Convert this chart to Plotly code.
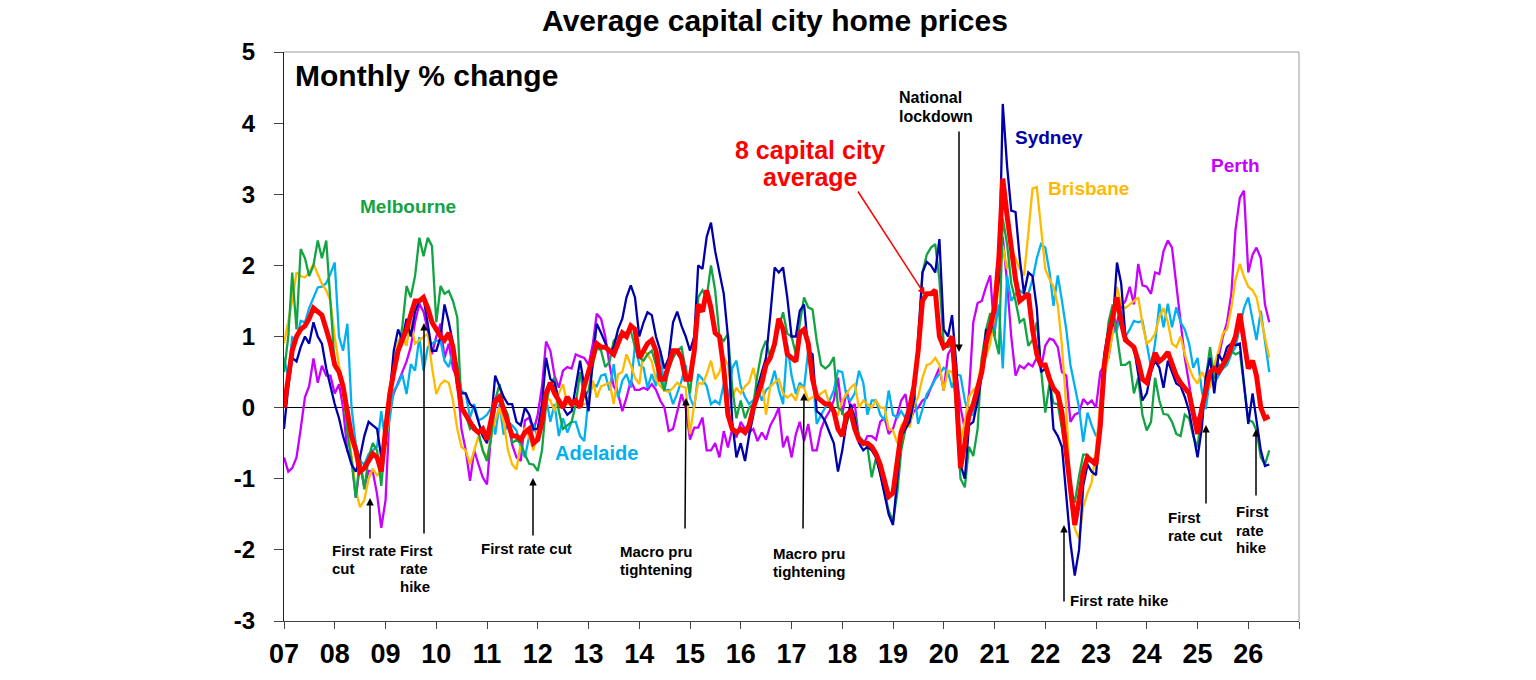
import pandas as pd
import plotly.graph_objects as go

months = pd.date_range("2007-01-01", periods=234, freq="MS")

avg8 = [
 0.0, 0.4, 0.8, 1.0, 1.1, 1.15, 1.25, 1.4, 1.35, 1.3, 1.1, 0.9,
 0.6, 0.5, 0.3, -0.1, -0.4, -0.6, -0.9, -0.85, -0.75, -0.65, -0.7, -0.9,
 -0.3, 0.2, 0.5, 0.8, 0.95, 1.1, 1.3, 1.5, 1.5, 1.55, 1.4, 1.2,
 1.1, 1.0, 0.95, 1.05, 0.85, 0.4, 0.0, -0.1, -0.2, -0.3, -0.35, -0.3,
 -0.45, -0.2, 0.1, 0.15, -0.05, -0.2, -0.4, -0.4, -0.45, -0.35, -0.3, -0.5,
 -0.45, -0.2, 0.2, 0.35, 0.2, 0.1, 0.0, 0.15, 0.05, 0.1, 0.0, 0.3,
 0.5, 0.7, 0.9, 0.85, 0.85, 0.8, 0.75, 0.9, 1.05, 1.0, 1.15, 1.1,
 0.7, 0.8, 0.9, 0.95, 0.8, 0.4, 0.4, 0.6, 0.8, 0.8, 0.7, 0.4,
 0.4, 0.8, 1.45, 1.35, 1.65, 1.4, 1.05, 1.0, 0.55, -0.1, -0.3, -0.35,
 -0.3, -0.35, -0.25, 0.0, 0.15, 0.35, 0.6, 0.7, 0.9, 1.25, 1.1, 0.75,
 0.7, 0.65, 1.05, 1.1, 0.9, 0.4, 0.15, 0.1, 0.05, 0.05, -0.05, -0.3,
 -0.4, -0.1, -0.05, -0.3, -0.45, -0.5, -0.5, -0.55, -0.65, -0.8, -1.0, -1.25,
 -1.2, -0.7, -0.35, -0.2, 0.0, 0.3, 0.8, 1.5, 1.6, 1.6, 1.65, 1.0,
 0.85, 0.9, 1.0, 0.2, -0.85, -0.5, -0.1, 0.05, 0.3, 0.5, 0.9, 1.15,
 1.4, 2.1, 3.22, 2.7, 2.25, 1.8, 1.5, 1.55, 1.6, 1.1, 0.75, 0.6,
 0.6, 0.4, 0.27, 0.2, -0.07, -0.63, -1.2, -1.65, -1.3, -0.9, -0.7, -0.75,
 -0.8, -0.25, 0.6, 1.0, 1.25, 1.55, 1.2, 0.95, 0.9, 0.85, 0.65, 0.4,
 0.35, 0.6, 0.77, 0.65, 0.7, 0.78, 0.6, 0.45, 0.35, 0.28, 0.2, -0.08,
 -0.37, 0.0, 0.25, 0.5, 0.55, 0.5, 0.6, 0.7, 0.85, 1.0, 1.32, 0.9,
 0.55, 0.66, 0.45, 0.0, -0.15, -0.12,
]

sydney = [
 -0.3, 0.3, 0.7, 0.65, 0.85, 1.0, 0.9, 1.2, 1.0, 0.9, 0.55, 0.3,
 0.05, -0.15, -0.4, -0.6, -0.8, -0.9, -0.7, -0.4, -0.2, -0.25, -0.3, -0.7,
 -0.5, 0.2, 0.8, 1.1, 0.95, 1.25, 1.0, 1.35, 1.5, 1.55, 1.2, 0.8,
 0.8, 1.0, 1.45, 1.2, 0.9, 0.3, 0.2, 0.2, 0.05, 0.0, -0.2, -0.4,
 -0.5, -0.15, 0.45, 0.3, 0.15, 0.05, 0.05, -0.2, -0.25, 0.0, -0.1, -0.3,
 -0.3, 0.05, 0.7, 0.4, 0.35, 0.1, 0.0, -0.1, -0.05, 0.28, 0.66, 0.3,
 -0.05, 0.7, 1.18, 1.05, 0.9, 0.77, 0.85, 1.1, 1.25, 1.55, 1.72, 1.55,
 1.0, 1.2, 1.34, 1.3, 1.0, 0.8, 0.55, 0.7, 1.2, 1.35, 1.15, 1.0,
 0.8, 1.0, 2.0, 1.95, 2.4, 2.6, 2.2, 1.9, 1.6, 1.0, -0.2, -0.7,
 -0.5, -0.75, -0.4, -0.1, 0.28, 0.5, 0.7, 1.3, 1.97, 1.9, 1.97, 1.55,
 1.0, 1.0, 1.36, 1.45, 0.8, 0.75, -0.05, -0.1, -0.2, -0.35, -0.5, -0.9,
 -0.6, -0.2, 0.05, -0.15, -0.5, -0.6, -0.55, -0.6, -0.7, -0.93, -1.2, -1.5,
 -1.65, -1.0, -0.4, -0.3, -0.2, 0.1, 1.0, 1.9, 2.05, 2.0, 1.9, 2.37,
 1.1, 1.0, 1.3, 0.6, -0.8, -1.0, -0.25, -0.2, 0.1, 0.45, 1.1, 1.05,
 1.4, 1.8, 4.27, 3.4, 2.77, 2.75, 2.1, 1.6, 1.9, 1.85, 1.4, 0.5,
 0.55, 0.45, -0.3, -0.4, -0.55, -1.3, -1.9, -2.36, -2.0, -1.1, -0.8, -0.9,
 -0.95, -0.2, 0.75, 1.1, 1.15, 2.04, 1.75, 1.0, 0.9, 0.85, 0.5, 0.1,
 0.2, 0.5, 0.66, 0.56, 0.28, 0.66, 0.5, 0.34, 0.3, 0.15, -0.05, -0.37,
 -0.7, -0.28, 0.43, 0.7, 0.2, 0.75, 0.65, 0.85, 0.9, 0.88, 0.9, 0.34,
 -0.23, 0.2, -0.2, -0.6, -0.82, -0.8,
]

melbourne = [
 0.5, 1.0, 1.9, 1.1, 2.23, 2.1, 1.85, 2.0, 2.35, 2.1, 2.35, 1.5,
 0.6, 0.5, 0.3, -0.35, -0.75, -1.27, -0.7, -1.15, -0.7, -0.5, -0.6, -1.1,
 -0.4, 0.1, 0.5, 0.8, 1.13, 1.71, 1.55, 1.85, 2.39, 2.13, 2.39, 2.27,
 1.2, 1.71, 1.6, 1.64, 1.5, 1.27, 0.0, -0.1, -0.3, -0.25, -0.35, -0.6,
 -0.75, -0.4, 0.1, 0.33, 0.03, -0.1, -0.5, -0.45, -0.5, -0.66, -0.79, -0.8,
 -0.89, -0.6, 0.05, 0.33, 0.42, -0.05, -0.3, -0.25, -0.2, 0.05, 0.5, 0.14,
 0.24, 0.6, 0.85, 0.8, 0.57, 0.65, 0.94, 1.0, 1.06, 1.05, 1.08, 0.85,
 0.7, 0.66, 0.75, 0.8, 0.6, 0.4, 0.24, 0.55, 0.7, 0.8, 0.85, 0.5,
 0.2, 0.8, 1.55, 1.65, 1.55, 2.0, 1.65, 1.0, 0.94, 1.04, 0.28, -0.15,
 0.1, -0.15, 0.0, 0.05, 0.47, 0.8, 0.94, 0.7, 0.9, 1.13, 1.34, 1.04,
 1.0, 0.75, 1.18, 1.55, 1.41, 1.38, 0.94, 0.6, 0.55, 0.6, 0.71, 0.0,
 -0.05, -0.23, -0.05, -0.1, -0.4, -0.47, -0.55, -0.98, -0.7, -0.93, -1.2, -1.45,
 -1.6, -1.2, -0.6, -0.3, -0.1, 0.3, 0.8, 1.9, 2.15, 2.25, 2.3, 1.8,
 0.89, 0.85, 0.88, 0.0, -1.0, -1.12, -0.55, -0.68, -0.3, 0.7, 1.1, 1.33,
 1.0, 0.75, 2.66, 2.3, 1.75, 1.5, 1.2, 1.25, 0.87, 0.95, 1.2, 0.55,
 -0.07, 0.35, 0.06, 0.05, -0.3, -0.66, -1.1, -1.34, -0.96, -0.66, -0.66, -0.75,
 -0.7, -0.36, 0.56, 1.2, 1.45, 1.0, 0.6, 0.6, 0.65, 0.2, 0.42, -0.1,
 -0.32, -0.2, 0.42, 0.1, -0.09, -0.1, -0.2, -0.37, -0.4, -0.1, -0.15, -0.4,
 -0.56, 0.0, 0.4, 0.85, 0.4, 0.61, 0.55, 0.65, 0.8, 0.75, 0.78, 0.35,
 -0.17, -0.2, -0.32, -0.7, -0.8, -0.6,
]

brisbane = [
 0.9, 1.2, 1.5, 1.9, 1.85, 1.83, 1.9, 2.02, 1.88, 1.74, 1.65, 1.5,
 1.0, 0.55, 0.2, -0.23, -0.7, -1.15, -1.4, -1.3, -1.0, -0.86, -0.95, -0.9,
 -0.55, 0.1, 0.6, 0.94, 1.0, 0.87, 1.22, 0.9, 0.95, 1.0, 1.04, 0.57,
 0.19, 0.33, 0.38, 0.35, 0.1, -0.3, -0.55, -0.6, -0.8, -0.6, -0.4, -0.6,
 -0.7, -0.4, -0.18, 0.0, -0.2, -0.6, -0.8, -0.87, -0.5, -0.28, -0.42, -0.6,
 -0.3, 0.0, 0.15, 0.1, -0.05, 0.2, 0.33, 0.05, 0.05, 0.05, 0.05, 0.05,
 0.05, 0.38, 0.14, 0.3, 0.33, 0.35, 0.05, 0.47, 0.5, 0.75, 0.6, 0.42,
 0.33, 0.8, 0.75, 0.65, 0.4, 0.3, 0.24, 0.22, 0.28, 0.35, 0.3, 0.28,
 -0.37, 0.05, 0.35, 0.33, 0.47, 0.66, 0.4, 0.5, 0.71, 0.6, 0.14, 0.28,
 0.2, 0.3, 0.35, 0.56, 0.28, 0.4, -0.1, 0.3, 0.35, 0.4, 0.2, 0.14,
 0.19, 0.1, 0.3, 0.28, 0.1, 0.15, 0.14, 0.2, 0.24, 0.05, -0.05, -0.1,
 0.1, 0.2, 0.28, 0.33, 0.0, 0.1, 0.05, 0.0, 0.1, 0.0, 0.0, -0.3,
 -0.32, -0.5, -0.25, -0.18, -0.28, 0.05, 0.15, 0.42, 0.6, 0.62, 0.7, 0.6,
 0.24, 0.52, 0.5, 0.15, -0.5, -0.2, 0.15, 0.25, 0.3, 0.7, 0.72, 0.9,
 1.3, 1.7, 2.28, 1.95, 2.2, 2.1, 1.95, 1.86, 2.45, 3.08, 3.1, 2.5,
 1.95, 1.8, 1.7, 1.44, 0.87, 0.0, -1.2, -1.7, -1.84, -1.4, -1.2, -1.05,
 -0.6, 0.1, 0.45, 0.72, 1.05, 1.7, 1.45, 1.4, 1.45, 1.5, 1.55, 1.18,
 0.9, 0.95, 1.04, 1.27, 1.4, 1.2, 0.9, 0.85, 1.0, 0.75, 0.56, 0.42,
 0.34, 0.5, 0.4, 0.28, 0.6, 0.8, 1.04, 1.1, 1.4, 1.8, 2.02, 1.84,
 1.7, 1.65, 1.55, 1.25, 0.95, 0.7,
]

adelaide = [
 0.7, 0.42, 0.99, 0.95, 1.22, 1.2, 1.4, 1.55, 1.69, 1.7, 1.75, 1.88,
 2.04, 1.0, 0.8, 1.18, 0.0, -0.52, -0.75, -0.8, -0.65, -0.6, -0.55, -0.05,
 -0.5, -0.14, 0.24, 0.33, 0.47, 0.19, 0.61, 0.52, 0.99, 0.52, 0.85, 0.9,
 0.94, 0.94, 0.66, 0.57, 0.8, 0.6, 0.24, 0.19, -0.14, 0.05, -0.18, -0.15,
 -0.1, 0.0, -0.38, 0.05, -0.38, -0.2, -0.25, -0.32, -0.56, -0.7, -0.4, -0.23,
 -0.42, -0.2, 0.14, -0.2, 0.05, -0.4, -0.15, -0.35, -0.2, -0.2, -0.4, -0.47,
 0.14, 0.33, 0.3, 0.45, 0.47, 0.24, 0.61, 0.14, 0.38, 0.47, 0.28, 0.89,
 0.6, 0.56, 0.28, 0.47, 0.3, 0.8, 0.24, 0.25, 0.05, 0.2, 0.38, 0.6,
 0.14, 0.0, 0.47, 0.4, 0.3, 0.05, 0.1, 0.05, 0.33, 0.05, 0.56, 0.66,
 0.3, 0.15, 0.05, 0.1, 0.28, 0.1, 0.25, 0.3, 0.52, 0.25, 0.05, 0.89,
 0.45, 0.19, 0.35, 0.28, 0.8, 0.47, -0.23, -0.1, 0.0, 0.1, 0.24, 0.52,
 0.5, 0.15, 0.1, 0.2, 0.52, 0.35, -0.1, 0.1, 0.1, -0.1, -0.18, 0.24,
 -0.1, -0.14, -0.05, -0.15, 0.0, 0.24, -0.23, 0.0, 0.19, 0.28, 0.4, 0.47,
 0.56, 0.5, 0.28, 0.47, 0.45, 0.1, -0.11, -0.1, 0.2, 0.6, 0.9, 1.2,
 1.07, 1.45, 0.55, 1.86, 1.5, 1.6, 1.65, 1.6, 1.6, 1.8, 2.1, 2.3,
 2.25, 1.9, 1.43, 1.86, 1.5, 1.1, 0.6, 0.3, 0.0, -0.48, -0.07, -0.25,
 -0.4, -0.3, 0.3, 1.0, 1.05, 1.1, 1.35, 1.0, 1.1, 1.22, 1.2, 1.22,
 0.9, 0.56, 0.9, 1.46, 1.13, 1.46, 1.13, 1.41, 1.2, 1.1, 0.9, 0.56,
 0.7, 0.23, -0.02, 0.42, 0.34, 0.45, 0.55, 0.6, 0.75, 0.85, 1.13, 1.4,
 1.55, 1.22, 0.95, 1.36, 0.9, 0.5,
]

perth = [
 -0.7, -0.9, -0.85, -0.7, -0.3, 0.15, 0.3, 0.69, 0.35, 0.59, 0.45, 0.45,
 0.2, 0.33, 0.0, -0.61, -0.7, -1.27, -0.8, -1.12, -0.89, -0.9, -1.22, -1.69,
 -1.3, 0.05, 0.2, 0.35, 0.5, 0.65, 0.85, 1.2, 1.46, 1.35, 1.08, 0.75,
 1.0, 1.18, 0.7, 0.9, 0.55, 0.4, -0.3, -0.6, -1.03, -0.6, -0.8, -0.98,
 -1.08, -0.33, 0.0, 0.19, 0.0, -0.2, -0.52, -0.7, -0.75, -0.18, -0.14, -0.33,
 -0.1, 0.3, 0.93, 0.8, 0.45, 0.28, 0.52, 0.57, 0.55, 0.75, 0.72, 0.7,
 0.6, 0.9, 1.32, 1.25, 1.0, 0.6, 0.3, 0.2, -0.05, 0.14, 0.38, 0.25,
 0.25, 0.28, 0.25, 0.33, 0.25, 0.1, 0.0, -0.33, -0.3, -0.05, 0.19, 0.0,
 -0.45, -0.28, -0.28, -0.14, -0.6, -0.6, -0.5, -0.7, -0.33, -0.56, -0.3, -0.42,
 -0.2, -0.3, -0.35, -0.3, -0.47, -0.35, -0.45, -0.25, -0.14, 0.0, -0.56, -0.4,
 -0.7, -0.37, -0.2, -0.47, -0.23, -0.6, -0.6, -0.3, -0.15, -0.05, 0.1, 0.42,
 -0.1, 0.24, 0.0, 0.05, -0.45, -0.52, -0.4, -0.4, -0.45, -0.2, -0.14, -0.37,
 -0.3, -0.1, 0.1, 0.19, -0.2, -0.05, 0.0, 0.1, 0.14, 0.28, 0.42, 0.56,
 0.24, 0.75, 0.85, 0.5, 0.0, -0.3, 0.2, 1.2, 1.47, 1.5, 1.7, 1.86,
 1.0, 2.14, 2.4, 1.76, 1.0, 0.45, 0.59, 0.55, 0.62, 0.58, 0.7, 0.55,
 0.87, 0.97, 0.95, 0.85, 0.5, 0.45, -0.2, -0.1, -0.07, 0.12, 0.05, 0.1,
 0.0, 0.5, 0.6, 0.7, 1.07, 1.2, 1.43, 1.5, 1.7, 1.45, 2.02, 1.72,
 1.7, 1.6, 1.9, 1.88, 2.2, 2.35, 2.25, 1.72, 1.13, 0.7, 0.34, -0.1,
 -0.17, 0.0, 0.2, 0.34, 0.52, 0.7, 0.99, 1.2, 1.6, 2.5, 2.95, 3.05,
 1.9, 2.15, 2.25, 2.1, 1.45, 1.2,
]

year_ticks = [f"{y}-01-01" for y in range(2007, 2028)]
year_labels = [f"{y % 100:02d}" for y in range(2007, 2027)] + [""]
y_ticks = [-3, -2, -1, 0, 1, 2, 3, 4, 5]
y_labels = ["-3", "-2", "-1", "0", "1", "2", "3", "4", "5"]

FONT = "Liberation Sans, Arial, sans-serif"

series = [
    ("Perth", perth, "#C800FF", 2.3),
    ("Adelaide", adelaide, "#00B0F0", 2.3),
    ("Brisbane", brisbane, "#FFBA00", 2.3),
    ("Melbourne", melbourne, "#12A342", 2.3),
    ("Sydney", sydney, "#0000AA", 2.3),
    ("8 capital city average", avg8, "#FF0000", 5),
]

fig = go.Figure()
for name, vals, col, w in series:
    fig.add_trace(go.Scatter(x=months, y=vals, mode="lines", name=name,
                             line=dict(color=col, width=w), showlegend=False))

L, R, T, B = 284, 1299, 52, 621


def px(x):
    return (x - L) / (R - L)


def py(y):
    return (B - y) / (B - T)


ann = []


def text(x, y, s, color="black", size=15, anchor="left"):
    ann.append(dict(x=px(x), y=py(y), xref="paper", yref="paper", text=f"<b>{s}</b>",
                    showarrow=False, xanchor=anchor, yanchor="middle",
                    font=dict(family=FONT, size=size, color=color)))


def arrow(hx, hy, tx, ty, color="black"):
    ann.append(dict(x=px(hx), y=py(hy), xref="paper", yref="paper", text="",
                    showarrow=True, ax=tx - hx, ay=ty - hy, axref="pixel", ayref="pixel",
                    arrowhead=2, arrowsize=1, arrowwidth=1.5, arrowcolor=color,
                    standoff=0, startstandoff=0))


text(293, 75, "Monthly % change", size=30)
text(358, 206, "Melbourne", color="#12A342", size=19)
text(553, 453, "Adelaide", color="#00B0F0", size=20)
text(810, 150, "8 capital city", color="#FF0000", size=25, anchor="center")
text(810, 177, "average", color="#FF0000", size=25, anchor="center")
text(897, 97, "National", size=16)
text(897, 117, "lockdown", size=16)
text(1013, 137, "Sydney", color="#0000AA", size=19)
text(1046, 188, "Brisbane", color="#FFBA00", size=19)
text(1209, 165, "Perth", color="#C800FF", size=19)

text(330, 550, "First rate", size=15)
text(330, 568, "cut", size=15)
text(398, 550, "First", size=15)
text(398, 568, "rate", size=15)
text(398, 586, "hike", size=15)
text(479, 548, "First rate cut", size=15)
text(618, 551, "Macro pru", size=15)
text(618, 569, "tightening", size=15)
text(771, 553, "Macro pru", size=15)
text(771, 571, "tightening", size=15)
text(1068, 600, "First rate hike", size=15)
text(1166, 517, "First", size=15)
text(1166, 535, "rate cut", size=15)
text(1234, 512, "First", size=15)
text(1234, 530, "rate", size=15)
text(1234, 547, "hike", size=15)

arrow(370, 498, 370, 540)
arrow(424, 323, 424, 535)
arrow(533, 478, 533, 537)
arrow(686, 398, 685, 530)
arrow(804, 393, 803, 530)
arrow(959, 352, 959, 130)
arrow(925, 295, 857, 190, color="#FF0000")
arrow(1064, 525, 1064, 603)
arrow(1206, 425, 1206, 505)
arrow(1256, 429, 1256, 497)

fig.update_layout(
    width=1536, height=680,
    margin=dict(l=L, r=1536 - R, t=T, b=680 - B, pad=0, autoexpand=False),
    paper_bgcolor="white", plot_bgcolor="white",
    font=dict(family=FONT, color="black"),
    title=dict(text="<b>Average capital city home prices</b>", x=775 / 1536, xref="container",
               xanchor="center", y=1 - 20 / 680, yanchor="middle",
               font=dict(family=FONT, size=30, color="black")),
    annotations=ann,
    shapes=[
        dict(type="line", xref="paper", yref="paper", x0=0, x1=1, y0=1, y1=1,
             line=dict(color="#9a9a9a", width=1)),
        dict(type="line", xref="paper", yref="paper", x0=1, x1=1, y0=0, y1=1,
             line=dict(color="#9a9a9a", width=1)),
    ],
)
fig.update_xaxes(type="date", range=["2007-01-01", "2027-01-01"], tickvals=year_ticks,
                 ticktext=year_labels, ticks="outside", ticklen=7, tickcolor="#444",
                 showline=True, linecolor="#444", linewidth=1, showgrid=False,
                 zeroline=False, ticklabelstandoff=2, automargin=False,
                 tickfont=dict(family=FONT, size=27, color="black", weight="bold"))
fig.update_yaxes(range=[-3, 5], tickvals=y_ticks, ticktext=y_labels, ticks="outside",
                 ticklen=9, tickcolor="#444", showline=True, linecolor="#222", linewidth=1,
                 showgrid=False, zeroline=True, zerolinecolor="black", zerolinewidth=1,
                 ticklabelstandoff=14, automargin=False,
                 tickfont=dict(family=FONT, size=24, color="black", weight="bold"))

fig.write_html("out.html")
